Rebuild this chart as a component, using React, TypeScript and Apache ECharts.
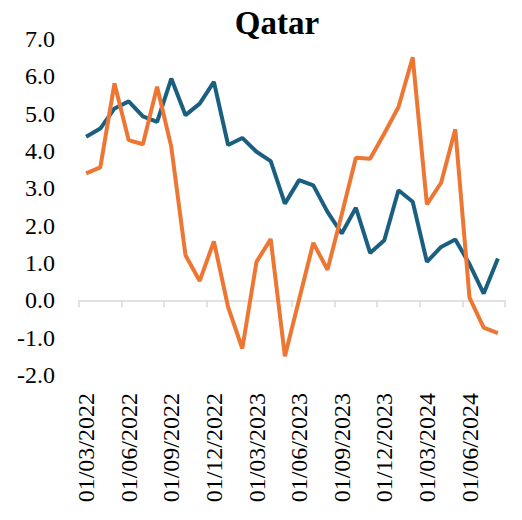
import React, { useEffect, useRef } from "react";
import * as echarts from "echarts";

const categories = [
  "01/03/2022", "01/04/2022", "01/05/2022", "01/06/2022", "01/07/2022", "01/08/2022",
  "01/09/2022", "01/10/2022", "01/11/2022", "01/12/2022", "01/01/2023", "01/02/2023",
  "01/03/2023", "01/04/2023", "01/05/2023", "01/06/2023", "01/07/2023", "01/08/2023",
  "01/09/2023", "01/10/2023", "01/11/2023", "01/12/2023", "01/01/2024", "01/02/2024",
  "01/03/2024", "01/04/2024", "01/05/2024", "01/06/2024", "01/07/2024", "01/08/2024",
];

const blueSeries = [
  4.38, 4.6, 5.14, 5.33, 4.93, 4.78, 5.94, 4.96, 5.27, 5.85,
  4.16, 4.35, 3.98, 3.73, 2.59, 3.22, 3.08, 2.37, 1.79, 2.48,
  1.27, 1.61, 2.95, 2.64, 1.03, 1.43, 1.63, 0.97, 0.18, 1.12,
];

const orangeSeries = [
  3.4, 3.56, 5.81, 4.29, 4.18, 5.72, 4.11, 1.21, 0.52, 1.58,
  -0.18, -1.29, 1.03, 1.64, -1.5, 0.02, 1.54, 0.82, 2.3, 3.82,
  3.79, 4.47, 5.18, 6.51, 2.57, 3.15, 4.58, 0.07, -0.73, -0.88,
];

const yMin = -2;
const yMax = 7;
const yInterval = 1;

const FONT = "'Liberation Serif', 'Times New Roman', serif";

export default function App() {
  const ref = useRef<HTMLDivElement>(null);
  useEffect(() => {
    document.body.style.margin = "0";
    const chart = echarts.init(ref.current!, null, { renderer: "svg" });
    chart.setOption({
      animation: false,
      backgroundColor: "#ffffff",
      title: {
        text: "Qatar",
        left: 272,
        top: 1,
        textAlign: "center",
        textStyle: { fontFamily: FONT, fontWeight: "bold", fontSize: 33, color: "#000" },
      },
      grid: { left: 79, right: 17, top: 39, bottom: 145 },
      xAxis: [
        {
          type: "category",
          data: categories,
          boundaryGap: true,
          position: "bottom",
          axisLine: { show: false, onZero: false },
          axisTick: { show: false },
          axisLabel: {
            interval: 2,
            rotate: 90,
            margin: 18,
            fontFamily: FONT,
            fontSize: 24,
            color: "#000",
          },
        },
        {
          type: "category",
          data: categories,
          boundaryGap: true,
          position: "bottom",
          axisLine: { show: true, onZero: true, lineStyle: { color: "#d9d9d9", width: 1.5 } },
          axisTick: { show: true, interval: 2, length: 7, lineStyle: { color: "#d9d9d9", width: 1.5 } },
          axisLabel: { show: false },
        },
      ],
      yAxis: {
        type: "value",
        min: yMin,
        max: yMax,
        interval: yInterval,
        axisLine: { show: false },
        axisTick: { show: false },
        splitLine: { show: false },
        axisLabel: {
          margin: 24,
          fontFamily: FONT,
          fontSize: 24,
          color: "#000",
          formatter: (v: number) => v.toFixed(1),
        },
      },
      series: [
        {
          type: "line",
          data: blueSeries,
          xAxisIndex: 0,
          showSymbol: false,
          lineStyle: { color: "#1B5F80", width: 4 },
          itemStyle: { color: "#1B5F80" },
        },
        {
          type: "line",
          data: orangeSeries,
          xAxisIndex: 0,
          showSymbol: false,
          lineStyle: { color: "#EE7633", width: 4 },
          itemStyle: { color: "#EE7633" },
        },
      ],
    });
    return () => chart.dispose();
  }, []);
  return <div ref={ref} style={{ width: 522, height: 520 }} />;
}
